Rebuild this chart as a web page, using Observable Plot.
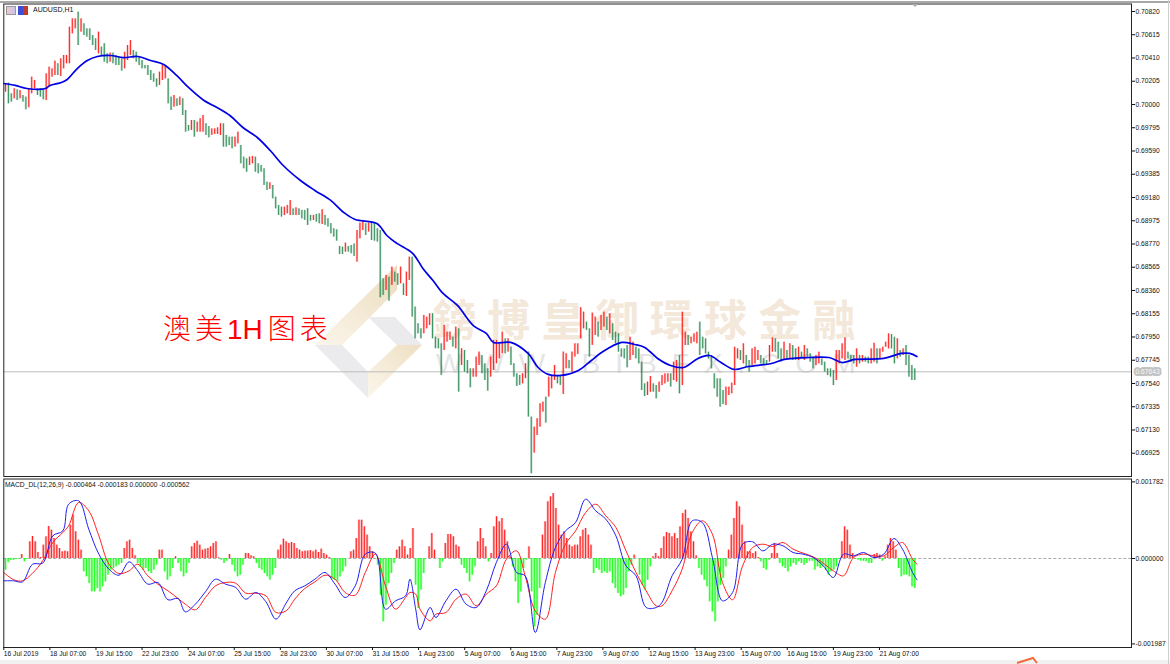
<!DOCTYPE html>
<html><head><meta charset="utf-8">
<script src="https://cdn.jsdelivr.net/npm/d3@7"></script>
<script src="https://cdn.jsdelivr.net/npm/@observablehq/plot@0.6"></script>
<style>
html,body{margin:0;padding:0;background:#fff;overflow:hidden}
#page{position:relative;width:1170px;height:664px;background:#fff;font-family:"Liberation Sans",sans-serif;overflow:hidden}
.abs{position:absolute;white-space:nowrap}
#plots{position:absolute;left:0;top:0;z-index:2}
#plots svg{display:block}
</style></head><body>
<div id="page">
<svg class="abs" style="left:0;top:0;z-index:0" width="1170" height="664">
<defs>
<linearGradient id="t1" x1="1" y1="0" x2="0" y2="1"><stop offset="0" stop-color="#ecdcbd"/><stop offset="1" stop-color="#fbf6ec"/></linearGradient>
<linearGradient id="t2" x1="1" y1="0" x2="0" y2="1"><stop offset="0" stop-color="#eedfc2"/><stop offset="1" stop-color="#fbf6ec"/></linearGradient>
</defs>
<polygon points="397,265 315,345 342,345 397,290" fill="url(#t1)"/>
<polygon points="368,317 395,317 422,345 397,345" fill="#ebebed"/>
<polygon points="315,345 342,345 368,372 368,398" fill="#ebebed"/>
<polygon points="368,372 397,345 422,345 368,398" fill="url(#t2)"/>
</svg>
<div class="abs" style="left:433px;top:292px;z-index:1;font:700 43px 'Noto Sans CJK TC';letter-spacing:11.2px;color:#f3e8da;line-height:50px">鎊博皇御環球金融</div>
<div class="abs" style="left:436px;top:347px;z-index:1;font:400 28px 'Liberation Sans';letter-spacing:15px;color:#e4e4e4;line-height:34px">WWW.BIBFX.COM</div>
<div class="abs" style="left:163px;top:312px;z-index:1;font:300 28px 'Liberation Sans','Noto Sans CJK SC';letter-spacing:4px;color:#ff0000;line-height:36px">澳美<span style="letter-spacing:0">1H</span><span style="margin-left:5px">图表</span></div>
<div class="abs" style="left:0;top:1px;width:1170px;height:1.5px;background:#a8a8a8;z-index:3"></div>
<div class="abs" style="left:0;top:660px;width:1170px;height:4px;background:#f1f1f1;z-index:0"></div>
<div class="abs" style="left:1168px;top:0;width:1px;height:664px;background:#cfcfcf;z-index:3"></div>
<svg class="abs" style="left:1015px;top:655px;z-index:3" width="30" height="9"><path d="M2 8 L18 3 L22 8" fill="none" stroke="#f26a3a" stroke-width="2"/></svg>
<div class="abs" style="left:912px;top:4px;width:0;height:0;border-left:3px solid transparent;border-right:3px solid transparent;border-top:3px solid #aaa;z-index:3"></div>
<div class="abs" style="left:6px;top:6px;width:10px;height:9px;background:linear-gradient(90deg,#f4c6c6,#c6c6ee);border:1px solid #999;box-sizing:border-box;z-index:3"></div>
<div class="abs" style="left:18px;top:6px;width:5px;height:9px;background:#3a4fd8;z-index:3"></div>
<div class="abs" style="left:23px;top:6px;width:5px;height:9px;background:#c0392b;z-index:3"></div>
<div class="abs" style="left:33px;top:5px;font-size:7px;line-height:10px;color:#111;z-index:3">AUDUSD,H1</div>
<div class="abs" style="left:5px;top:480px;font-size:6.7px;line-height:10px;color:#111;z-index:3">MACD_DL(12,26,9) -0.000464 -0.000183 0.000000 -0.000562</div>
<div id="plots"></div>
</div>
<script>
// Price values are in 1e-5 units; MACD values in 1e-6 units.
const highs = [70182,70188,70094,70138,70129,70123,70079,70065,70138,70241,70212,70138,70138,70123,70270,70329,70314,70382,70359,70403,
70432,70432,70682,70755,70755,70814,70755,70711,70667,70667,70608,70579,70638,70506,70535,70447,70453,70453,70432,70417,
70403,70461,70520,70564,70476,70461,70417,70388,70344,70344,70300,70270,70226,70285,70344,70335,70226,70065,70079,70050,
70065,70050,69947,69815,69859,69859,69844,69874,69903,69830,69806,69785,69785,69794,69830,69830,69727,69712,69712,69712,
69756,69638,69536,69521,69536,69542,69536,69477,69462,69433,69315,69309,69286,69183,69110,69095,69095,69110,69153,69080,69089,69080,69066,
69066,69081,69022,69022,69031,69036,69072,69022,68992,68950,68904,68895,68748,68742,68778,68748,68757,68770,68889,68954,68978,68948,
68954,68963,68954,68904,68889,68463,68493,68478,68566,68522,68507,68566,68419,68522,68654,68654,68214,68067,68022,68140,
68125,68155,68155,67949,67934,67890,68052,67993,67993,67949,68037,68022,67846,67831,67743,67670,67670,67773,67817,
67787,67714,67670,67773,67920,67920,67890,67993,67934,67934,67861,67714,67626,67611,67626,67714,67817,67244,67155,67229,
67361,67376,67420,67596,67611,67699,67611,67611,67817,67802,67743,67817,67890,67890,68208,68169,68081,68022,68161,68125,68081,
68139,68169,68125,68154,68066,67992,67978,67845,67845,67875,67948,67904,67860,67845,67728,67537,67552,67602,67537,67522,
67552,67610,67625,67625,67625,67728,67743,67787,68169,67992,67963,67948,67978,67992,68081,67948,67934,67816,67787,67625,
67581,67581,67478,67508,67508,67543,67860,67845,67831,67890,67787,67743,67845,67860,67831,67787,67757,67743,67875,67942,
67934,67904,67845,67904,67831,67890,67875,67845,67860,67816,67875,67845,67801,67772,67787,67816,67757,67728,67669,67669,
67655,67831,67831,67890,67942,67816,67787,67787,67845,67787,67787,67772,67772,67845,67895,67845,67845,67860,67904,67978,
67972,67948,67934,67831,67845,67875,67787,67698,67669];
const lows = [70109,70006,70021,70050,70035,70050,70021,69953,69971,70094,70138,70079,70065,70041,70035,70153,70241,70256,70256,70247,
70314,70359,70359,70623,70667,70520,70638,70608,70594,70564,70520,70476,70447,70432,70373,70359,70373,70359,70344,70344,
70294,70314,70388,70432,70403,70373,70344,70314,70314,70256,70212,70197,70153,70168,70212,70226,70006,69947,69977,69982,
69991,69903,69756,69765,69771,69712,69756,69756,69756,69727,69706,69727,69736,69736,69727,69624,69624,69638,69609,69624,
69653,69477,69433,69403,69462,69477,69403,69389,69403,69286,69242,69251,69168,69080,69021,69007,69021,69036,69021,69021,69021,69021,68992,
68978,68934,68972,68978,68963,68948,68942,68934,68919,68860,68831,68795,68678,68678,68698,68698,68684,68660,68610,68816,68889,68845,
68875,68801,68795,68787,68296,68316,68360,68266,68405,68434,68405,68419,68316,68308,68449,68125,67934,67978,67934,67978,
68022,68052,67934,67846,67846,67611,67831,67905,67920,67861,67846,67464,67699,67640,67626,67502,67596,67596,67699,
67626,67567,67473,67596,67655,67714,67758,67802,67802,67817,67699,67596,67514,67523,67537,67582,67244,66744,66926,67082,
67155,67288,67191,67420,67493,67567,67537,67523,67443,67670,67670,67640,67773,67796,67934,68022,68008,67773,67876,67964,67949,
68007,68037,68007,67978,67919,67890,67816,67772,67757,67678,67743,67787,67757,67713,67478,67425,67434,67463,67463,67405,
67463,67522,67537,67552,67508,67566,67552,67449,67522,67875,67875,67890,67904,67890,67787,67845,67801,67757,67669,67493,
67419,67331,67355,67346,67434,67449,67522,67757,67743,67713,67684,67640,67698,67713,67743,67713,67698,67698,67728,67816,
67816,67757,67728,67743,67757,67757,67743,67743,67743,67757,67743,67772,67728,67669,67698,67713,67698,67640,67610,67596,
67522,67566,67713,67757,67743,67757,67728,67713,67684,67713,67728,67728,67713,67713,67728,67713,67757,67816,67860,
67845,67845,67713,67757,67772,67787,67698,67596,67566,67566];

const maBars = [0,8,16,29,32,40,44,51,58,65,74,83,93,102,111,120,129,139,148,157,166,176,185,194,206,216,227,236,244,259,266,273,284,291,298,305,315,326,335,340,352,364,371,378,387,399,408,415,429,438,445,454,463,472,482,490,498,507,517,533,542,559,573,582,591,611,623,629,634];
const maValues = [70185,70168,70141,70141,70168,70194,70220,70317,70388,70423,70432,70414,70423,70388,70353,70256,70141,70035,69974,69903,69797,69709,69594,69462,69330,69242,69154,69048,68986,68951,68845,68775,68686,68554,68448,68334,68228,68051,67981,67902,67902,67805,67681,67620,67611,67655,67743,67813,67902,67884,67858,67761,67699,67681,67761,67787,67725,67664,67690,67716,67752,67769,67769,67725,67752,67761,67805,67805,67778];

const histValues = [-271,-93,-47,-39,-23,-16,93,-78,-23,388,512,388,140,23,310,504,744,659,465,310,232,155,171,155,775,1008,620,426,194,
-310,-426,-581,-775,-775,-698,-775,-659,-543,-388,-271,-233,-194,-155,-116,233,388,426,233,62,
-116,-194,-271,-233,-310,-349,-271,-155,194,194,-310,-504,-426,-233,39,-116,-310,-426,-349,-116,
271,349,403,310,194,217,233,271,349,388,16,-39,-116,-62,93,-155,-310,-426,-388,-155,116,116,62,39,
-116,-233,-271,-349,-426,-504,-388,-233,194,310,450,388,349,372,349,233,194,155,171,171,186,155,194,140,217,116,78,23,
-480,-504,-543,-426,-310,-194,0,155,194,465,891,891,736,543,271,155,0,-155,-853,-1473,-1085,-581,-349,-116,194,271,426,271,78,233,698,
-620,-1163,-736,-349,0,271,581,194,0,-233,-78,349,558,558,504,310,271,-155,-233,-349,-543,-388,-194,388,698,465,271,-78,116,736,969,853,930,659,388,39,
-194,-543,-1046,-775,-233,-39,271,-775,-1589,-1318,-698,543,853,1318,1434,1511,1163,775,543,620,465,310,271,310,310,504,659,698,543,310,
-349,-233,-271,-349,-310,-349,-310,-581,-698,-814,-891,-853,-698,-310,-155,78,0,-388,-620,-736,-504,-194,39,116,
39,233,504,605,581,504,581,465,736,1046,1124,930,620,388,62,-233,-388,-504,-659,-1008,-1240,-1473,-1008,-620,-465,-194,194,543,930,1318,1201,775,388,155,155,116,155,23,
-78,-233,-271,-39,116,349,116,-116,-194,-233,-310,-194,-116,-155,-78,-116,-155,-116,-62,-62,-271,-194,-233,-194,-271,-388,-310,-271,-194,-23,388,736,659,310,116,
-23,-39,-62,-62,-78,-116,-116,93,116,78,-62,39,310,465,388,194,-233,-426,-388,-388,-426,-659,-698];

const macdBars = [0,7,13,20,27,34,41,45,52,59,66,73,80,87,93,100,107,114,121,126,133,140,147,154,161,168,175,182,189,196,202,209,216,223,
230,237,244,251,258,265,272,279,282,286,289,296,300,307,314,321,328,335,342,349,356,362,369,376,383,390,397,404,411,418,425,432,439,446,453,
457,464,471,478,485,492,499,506,513,520,527,534,541,548,555,562,569,576,583,590,597,604,611,618,624,631,634];
const macdMain = [-519,-519,-543,-132,-109,527,643,1263,1341,682,101,-248,-388,-78,-287,-597,-558,-961,-930,-1240,-1062,-775,-481,-597,-674,-946,-791,-1008,-1411,-1039,-752,-636,-481,-326,
-597,-907,-636,101,124,-1178,-984,-868,-481,-1178,-1659,-1139,-1372,-984,-713,-1062,-1139,-752,-93,333,-326,-403,-1721,-558,256,643,837,1380,1108,915,527,-171,-403,-1139,-1139,
-1023,-403,-16,876,837,23,-984,-791,333,388,178,333,295,140,101,23,-171,-442,101,62,140,23,101,465,217,-326,-496];
const macdSignal = [-326,-496,-519,-341,-54,372,605,760,1302,1108,527,-132,-349,-287,-132,-403,-597,-752,-930,-1062,-1194,-907,-636,-558,-574,-806,-806,-868,-1256,-1217,-946,-698,-543,-388,
-481,-791,-853,-326,101,-636,-1178,-907,-791,-829,-1178,-1449,-1294,-1256,-946,-829,-1101,-829,-636,-16,178,-403,-1217,-1411,-326,333,643,1070,1263,992,721,178,-326,-752,-1101,
-1101,-752,-248,605,876,566,-558,-961,-171,256,333,279,372,217,124,39,-109,-287,-403,23,101,62,62,256,372,-16,-132];

const priceTicks = [70820,70615,70410,70205,70000,69795,69590,69385,69180,68975,68770,68565,68360,68155,67950,67745,67540,67335,67130,66925];
const macdTicks = [1782,0,-1987];
const timeBars = [0,32,64,96,128,160,192,224,256,288,320,352,384,416,448,480,512,544,576,608];
const timeLabels = ["16 Jul 2019","18 Jul 07:00","19 Jul 15:00","22 Jul 23:00","24 Jul 07:00","25 Jul 15:00","28 Jul 23:00","30 Jul 07:00","31 Jul 15:00","1 Aug 23:00","5 Aug 07:00","6 Aug 15:00","7 Aug 23:00","9 Aug 07:00","12 Aug 15:00","13 Aug 23:00","15 Aug 07:00","16 Aug 15:00","19 Aug 23:00","21 Aug 07:00"];
const lastPrice = 67643;

const firstBar = 1.2, lastBar = 632.5, barEnd = 783;
const n = Math.min(highs.length, lows.length);
const candles = d3.range(n).map(i => {
  const mid = (highs[i] + lows[i]) / 2;
  const prev = i ? (highs[i-1] + lows[i-1]) / 2 : mid;
  return {bar: firstBar + i * (lastBar - firstBar) / (n - 1), high: highs[i], low: lows[i], up: mid >= prev};
});
const hist = histValues.map((v, i) => ({bar: firstBar + i * (lastBar - firstBar) / (histValues.length - 1), v}));
const ma = maBars.map((b, i) => ({bar: b, v: maValues[i]}));
const main = macdBars.map((b, i) => ({bar: b, v: macdMain[i]}));
const signal = macdBars.map((b, i) => ({bar: b, v: macdSignal[i]}));
const up = candles.filter(d => d.up), down = candles.filter(d => !d.up);
const histUp = hist.filter(d => d.v > 0), histDown = hist.filter(d => d.v < 0);
const baseStyle = {fontFamily: "'Liberation Sans',sans-serif", fontSize: "6.7px", background: "transparent", color: "#111", overflow: "visible"};

const pricePlot = Plot.plot({
  width: 1170, height: 478, marginLeft: 3.3, marginRight: 39, marginTop: 3.5, marginBottom: 2,
  style: baseStyle,
  x: {domain: [0, barEnd], axis: null},
  y: {domain: [66720, 70886]},
  marks: [
    Plot.ruleY([lastPrice], {stroke: "#bdbdbd", strokeWidth: 1}),
    Plot.ruleX(up, {x: "bar", y1: "low", y2: "high", stroke: "#ff3030", strokeWidth: 2.2, strokeOpacity: 0.35}),
    Plot.ruleX(down, {x: "bar", y1: "low", y2: "high", stroke: "#2e8b57", strokeWidth: 2.2, strokeOpacity: 0.35}),
    Plot.ruleX(up, {x: "bar", y1: "low", y2: "high", stroke: "#ff1515", strokeWidth: 0.9}),
    Plot.ruleX(down, {x: "bar", y1: "low", y2: "high", stroke: "#2e8b57", strokeWidth: 0.9}),
    Plot.line(ma, {x: "bar", y: "v", stroke: "#0000e6", strokeWidth: 1.7, curve: "catmull-rom"}),
    Plot.frame({stroke: "#222", strokeWidth: 1}),
    Plot.axisY(priceTicks, {anchor: "right", label: null, tickSize: 3, tickPadding: 1, tickFormat: d => (d / 1e5).toFixed(5), fontSize: 6.7}),
    Plot.text([lastPrice], {y: d => d, frameAnchor: "right", textAnchor: "start", dx: 4, text: d => (d / 1e5).toFixed(5), fill: "#f7f7f7", stroke: "#c2c2c2", strokeWidth: 4, fontSize: 6.7})
  ]
});

const macdPlot = Plot.plot({
  width: 1170, height: 186, marginLeft: 3.3, marginRight: 39, marginTop: 0.5, marginBottom: 17,
  style: baseStyle,
  x: {domain: [0, barEnd]},
  y: {domain: [-2070, 1849]},
  marks: [
    Plot.ruleY([0], {stroke: "#aaa", strokeDasharray: "3,2", strokeWidth: 1}),
    Plot.ruleX(histUp, {x: "bar", y1: 0, y2: "v", stroke: "#ff6060", strokeWidth: 2.4, strokeOpacity: 0.5}),
    Plot.ruleX(histDown, {x: "bar", y1: 0, y2: "v", stroke: "#30ff30", strokeWidth: 2.4, strokeOpacity: 0.5}),
    Plot.ruleX(histUp, {x: "bar", y1: 0, y2: "v", stroke: "#ff2020", strokeWidth: 1}),
    Plot.ruleX(histDown, {x: "bar", y1: 0, y2: "v", stroke: "#20ff20", strokeWidth: 1}),
    Plot.line(signal, {x: "bar", y: "v", stroke: "#ff2020", strokeWidth: 1, curve: "catmull-rom"}),
    Plot.line(main, {x: "bar", y: "v", stroke: "#2020f0", strokeWidth: 1, curve: "catmull-rom"}),
    Plot.frame({stroke: "#222", strokeWidth: 1}),
    Plot.axisY(macdTicks, {anchor: "right", label: null, tickSize: 3, tickPadding: 1, tickFormat: d => (d / 1e6).toFixed(6), fontSize: 6.7}),
    Plot.axisX(timeBars, {label: null, tickSize: 3, tickPadding: 1, textAnchor: "start", tickFormat: d => timeLabels[timeBars.indexOf(d)], fontSize: 6.7})
  ]
});
document.getElementById("plots").append(pricePlot, macdPlot);
</script>
</body></html>
